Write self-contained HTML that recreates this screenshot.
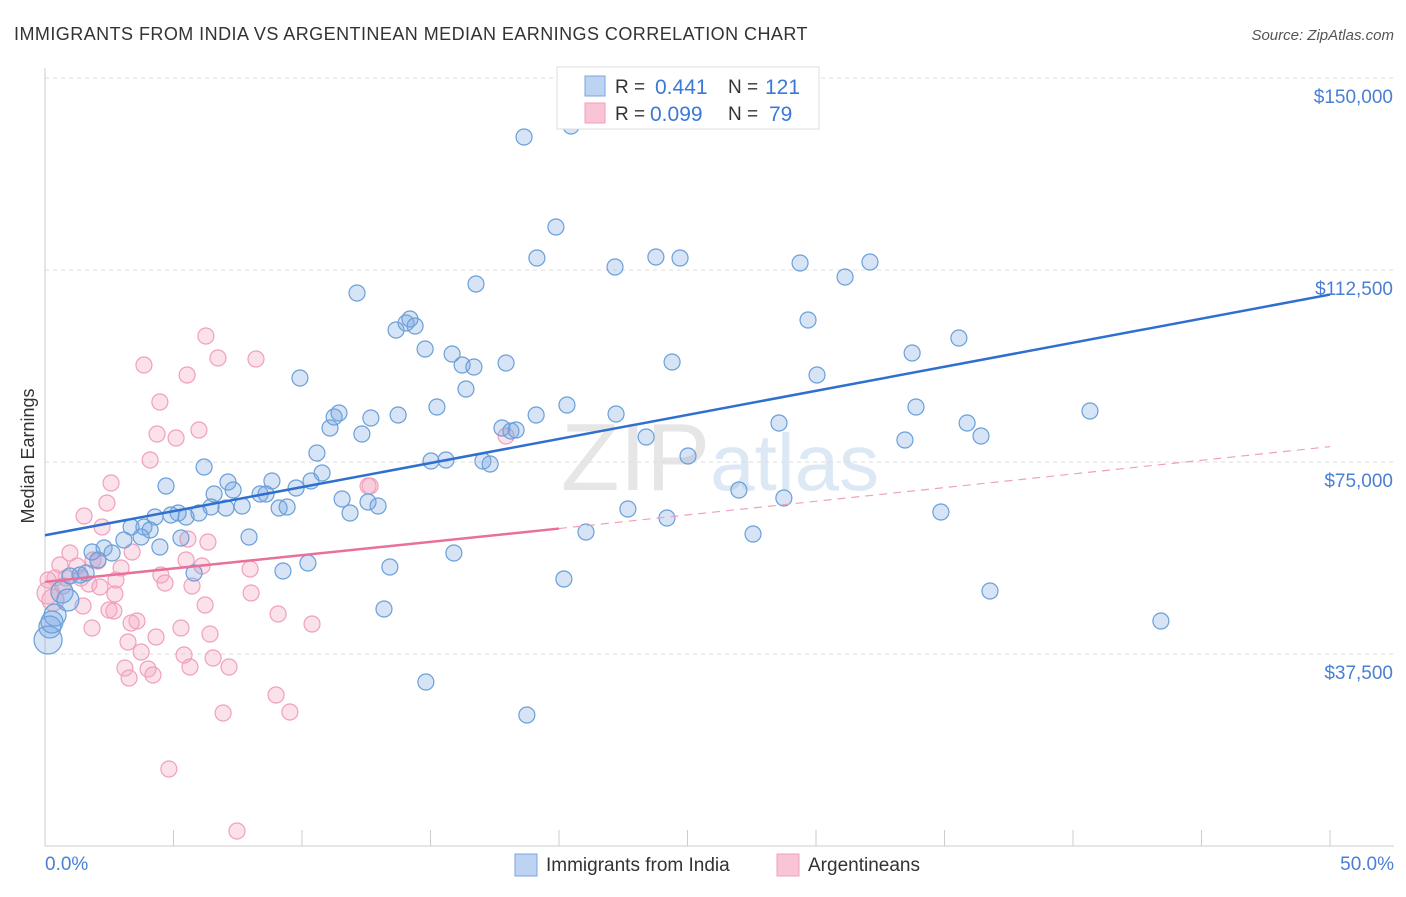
<!DOCTYPE html>
<html><head><meta charset="utf-8"><style>
body{margin:0;background:#fff;font-family:"Liberation Sans",sans-serif}
svg text{font-family:"Liberation Sans",sans-serif}
</style></head><body>
<svg width="1406" height="892">
<text x="14" y="40" font-size="18" fill="#333" letter-spacing="0.45">IMMIGRANTS FROM INDIA VS ARGENTINEAN MEDIAN EARNINGS CORRELATION CHART</text>
<text x="1394" y="40" font-size="15" fill="#555" font-style="italic" text-anchor="end">Source: ZipAtlas.com</text>
<text x="720" y="490" font-size="96" fill="#e6e6e6" text-anchor="middle" font-family="Liberation Serif">ZIP<tspan fill="#dde8f5" font-family="Liberation Sans" font-size="80">atlas</tspan></text>
<g id="grid"></g><g id="axes"></g><g id="pts"></g><g id="lines"></g>
<text x="34" y="456" font-size="18" fill="#333" transform="rotate(-90 34 456)" text-anchor="middle">Median Earnings</text>
<text x="45" y="870" font-size="19" fill="#4a7fd4">0.0%</text>
<text x="1394" y="870" font-size="19" fill="#4a7fd4" text-anchor="end">50.0%</text>
<g>
<rect x="557" y="67" width="262" height="62" fill="#fff" stroke="#ddd"/>
<rect x="585" y="76" width="20" height="20" fill="#bcd3f2" stroke="#7aa6e0"/>
<rect x="585" y="103" width="20" height="20" fill="#f9c5d6" stroke="#f0a0bb"/>
<text x="615" y="93" font-size="19" fill="#333">R =</text>
<text x="655" y="94" font-size="21" fill="#3b78d8">0.441</text>
<text x="728" y="93" font-size="19" fill="#333">N =</text>
<text x="765" y="94" font-size="21" fill="#3b78d8">121</text>
<text x="615" y="120" font-size="19" fill="#333">R =</text>
<text x="650" y="121" font-size="21" fill="#3b78d8">0.099</text>
<text x="728" y="120" font-size="19" fill="#333">N =</text>
<text x="769" y="121" font-size="21" fill="#3b78d8">79</text>
</g>
<g>
<rect x="515" y="854" width="22" height="22" fill="#bcd3f2" stroke="#7aa6e0"/>
<text x="546" y="871" font-size="19" fill="#333">Immigrants from India</text>
<rect x="777" y="854" width="22" height="22" fill="#f9c5d6" stroke="#f0a0bb"/>
<text x="808" y="871" font-size="19" fill="#333">Argentineans</text>
</g>
</svg>
<script>
const yTicks=[37500,75000,112500,150000];
const yTickLabels=["$37,500","$75,000","$112,500","$150,000"];
const xTicks=[0,5,10,15,20,25,30,35,40,45,50];
const bluePx=[[524,137],[571,126],[556,227],[537,258],[615,267],[656,257],[680,258],[800,263],[845,277],[870,262],[357,293],[476,284],[396,330],[406,323],[410,319],[415,326],[425,349],[452,354],[462,365],[474,367],[506,363],[300,378],[466,389],[672,362],[808,320],[817,375],[912,353],[959,338],[437,407],[567,405],[616,414],[646,437],[330,428],[334,417],[339,413],[362,434],[371,418],[398,415],[502,428],[511,431],[516,430],[536,415],[779,423],[905,440],[916,407],[967,423],[981,436],[1090,411],[317,453],[322,473],[431,461],[446,460],[483,461],[490,464],[688,456],[204,467],[166,486],[228,482],[233,490],[272,481],[296,488],[311,481],[260,494],[266,494],[214,494],[342,499],[350,513],[368,502],[378,506],[242,506],[226,508],[199,513],[211,507],[186,517],[178,513],[171,515],[155,517],[131,527],[144,527],[150,530],[141,537],[124,540],[160,547],[181,538],[249,537],[279,508],[287,507],[308,563],[283,571],[390,567],[384,609],[454,553],[564,579],[586,532],[628,509],[667,518],[739,490],[753,534],[784,498],[941,512],[990,591],[1161,621],[426,682],[527,715],[194,573],[104,548],[98,560],[112,553],[92,552],[86,573],[70,576],[80,575],[62,592],[68,600],[55,615],[50,627],[48,640],[52,622]];
const pinkPx=[[206,336],[144,365],[218,358],[256,359],[187,375],[160,402],[157,434],[176,438],[199,430],[150,460],[111,483],[107,503],[84,516],[102,527],[132,552],[70,553],[93,560],[60,565],[77,566],[55,578],[48,580],[66,578],[81,578],[63,586],[89,584],[100,587],[116,580],[121,568],[208,542],[188,539],[202,566],[186,560],[161,575],[165,583],[192,586],[250,569],[370,486],[368,486],[506,436],[83,606],[109,610],[114,611],[137,621],[131,623],[156,637],[181,628],[210,634],[205,605],[115,594],[92,628],[251,593],[278,614],[312,624],[128,642],[141,652],[184,655],[213,658],[190,667],[229,667],[125,668],[148,669],[153,675],[129,678],[276,695],[290,712],[223,713],[169,769],[237,831],[53,600],[48,593],[98,561]];
const r1=v=>Math.round(v*100)/100;
const blueX=bluePx.map(p=>r1((p[0]-45)/1285*50)), blueY=bluePx.map(p=>Math.round((846-p[1])/192*37500));
const pinkX=pinkPx.map(p=>r1((p[0]-45)/1285*50)), pinkY=pinkPx.map(p=>Math.round((846-p[1])/192*37500));
const blueTrend=[[0,60700],[50,107700]];
const pinkTrend=[[0,51600],[20,62000],[50,78000]];
const X=v=>45+v/50*1285, Y=v=>846-v/37500*192;
const NS="http://www.w3.org/2000/svg";
function mk(t,a,p){const e=document.createElementNS(NS,t);for(const k in a)e.setAttribute(k,a[k]);document.getElementById(p).appendChild(e);return e;}
yTicks.forEach((v,i)=>{
 const l=mk('line',{x1:45,x2:1394,y1:Y(v),y2:Y(v),stroke:'#ddd','stroke-dasharray':'4,4'},'grid');
 
 
 const t=mk('text',{x:1393,y:Y(v)+25,'font-size':19,fill:'#4a7fd4','text-anchor':'end'},'grid');t.textContent=yTickLabels[i];
 
 
});
mk('line',{x1:45,x2:1394,y1:78,y2:78,stroke:'#ddd','stroke-dasharray':'4,4'},'grid');
mk('line',{x1:45,x2:45,y1:68,y2:846,stroke:'#ccc'},'axes');
mk('line',{x1:45,x2:1394,y1:846,y2:846,stroke:'#ccc'},'axes');
xTicks.forEach(v=>{const t=mk('line',{x1:X(v),x2:X(v),y1:830,y2:846,stroke:'#ccc'},'axes');
 
 });
function pts(xs,ys,fill,stroke,name){xs.forEach((x,i)=>{let r=8;if(x<0.5&&ys[i]<42000)r=14;else if(x<1&&ys[i]<50000)r=11;
 const c=mk('circle',{cx:X(x),cy:Y(ys[i]),r:r,fill:fill,stroke:stroke,'stroke-width':1.2},'pts');
 
 });}
pts(pinkX,pinkY,'rgba(244,170,196,0.35)','#f0a0bb','argentinean-point');
pts(blueX,blueY,'rgba(120,165,225,0.3)','#6a9fd8','india-point');
const bl=mk('line',{x1:X(blueTrend[0][0]),y1:Y(blueTrend[0][1]),x2:X(blueTrend[1][0]),y2:Y(blueTrend[1][1]),stroke:'#2f6fd0','stroke-width':2.5},'lines');


const pl=mk('line',{x1:X(pinkTrend[0][0]),y1:Y(pinkTrend[0][1]),x2:X(pinkTrend[1][0]),y2:Y(pinkTrend[1][1]),stroke:'#e8709a','stroke-width':2.5},'lines');


const pd=mk('line',{x1:X(pinkTrend[1][0]),y1:Y(pinkTrend[1][1]),x2:X(pinkTrend[2][0]),y2:Y(pinkTrend[2][1]),stroke:'#f0a0bb','stroke-width':1.2,'stroke-dasharray':'8,6'},'lines');


</script>
</body></html>
